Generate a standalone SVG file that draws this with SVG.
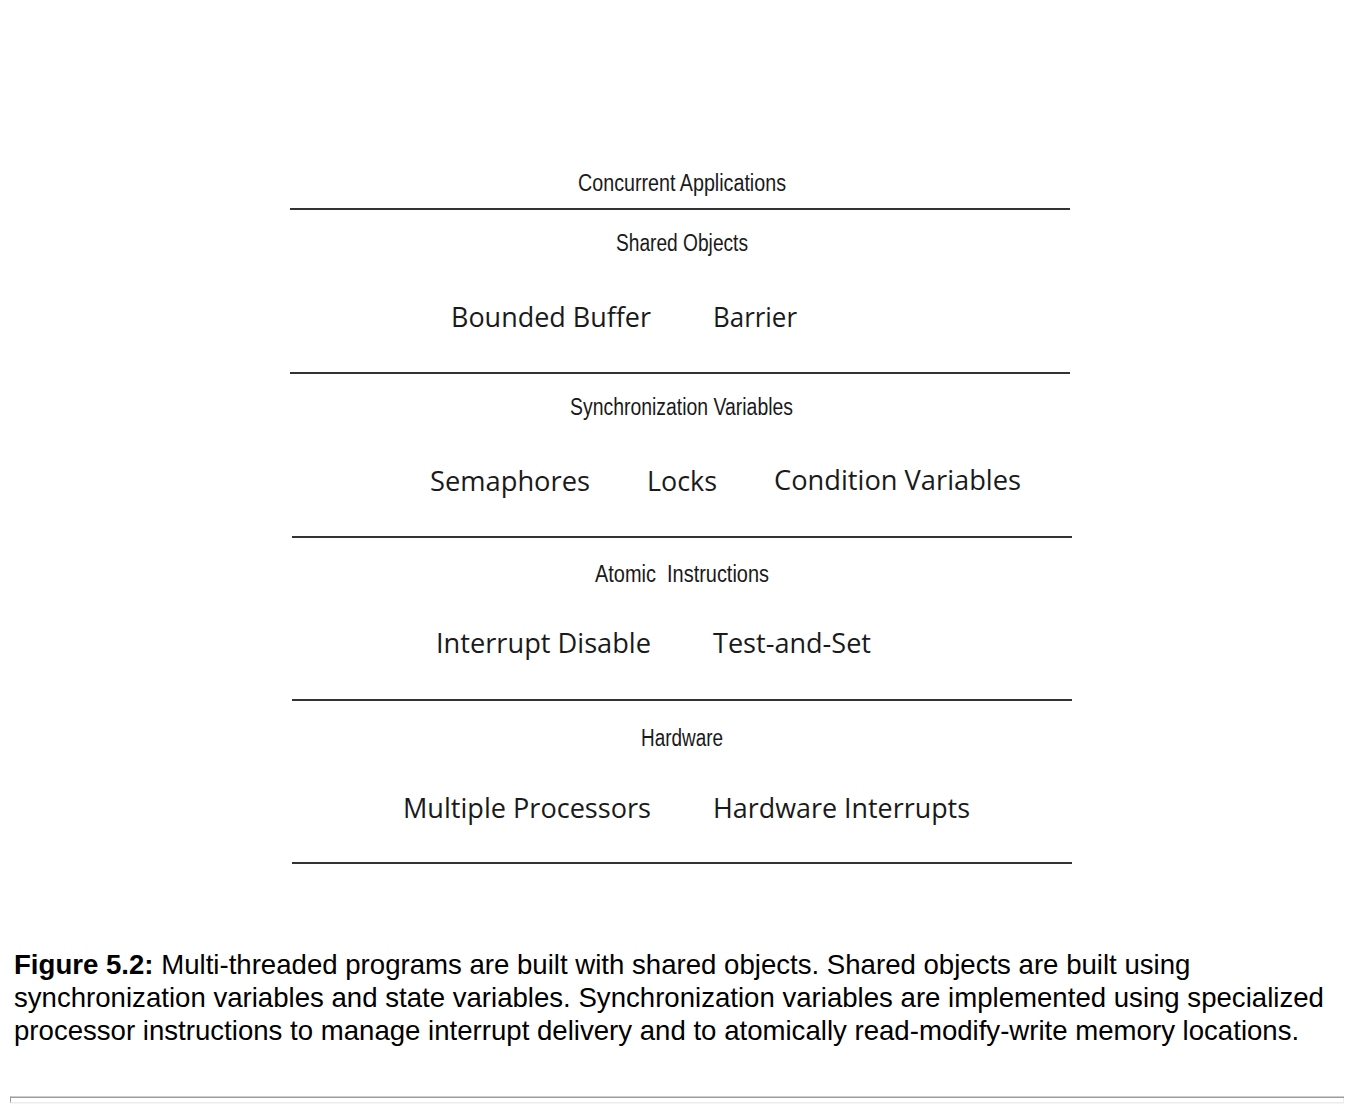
<svg xmlns="http://www.w3.org/2000/svg" width="1356" height="1112" viewBox="0 0 1356 1112">
<style>
.h{font-family:"Liberation Sans",Arial,sans-serif;font-size:23px;fill:#1a1a1a;}
.i{font-family:"Open Sans","Liberation Sans",sans-serif;font-size:28px;fill:#1a1a1a;}
.c{font-family:"Liberation Sans",Arial,sans-serif;font-size:27.6px;fill:#000;}
.sep{stroke:#333;stroke-width:2;fill:none;}
</style>
<rect width="1356" height="1112" fill="#fff"/>
<g id="connectors">
<line class="sep" x1="290" y1="209" x2="1070" y2="209"/>
<line class="sep" x1="290" y1="373" x2="1070" y2="373"/>
<line class="sep" x1="292" y1="537" x2="1072" y2="537"/>
<line class="sep" x1="292" y1="700" x2="1072" y2="700"/>
<line class="sep" x1="292" y1="863" x2="1072" y2="863"/>
</g>
<g id="layer-concurrent">
<text class="h" x="578" y="191" textLength="208" lengthAdjust="spacingAndGlyphs">Concurrent Applications</text>
</g>
<g id="layer-shared">
<text class="h" x="616" y="251" textLength="132" lengthAdjust="spacingAndGlyphs">Shared Objects</text>
<text class="i" x="451" y="327" textLength="200" lengthAdjust="spacingAndGlyphs">Bounded Buffer</text>
<text class="i" x="713" y="327" textLength="84" lengthAdjust="spacingAndGlyphs">Barrier</text>
</g>
<g id="layer-sync">
<text class="h" x="570" y="415" textLength="223" lengthAdjust="spacingAndGlyphs">Synchronization Variables</text>
<text class="i" x="430" y="491" textLength="160" lengthAdjust="spacingAndGlyphs">Semaphores</text>
<text class="i" x="647" y="491" textLength="70" lengthAdjust="spacingAndGlyphs">Locks</text>
<text class="i" x="774" y="490" textLength="247" lengthAdjust="spacingAndGlyphs">Condition Variables</text>
</g>
<g id="layer-atomic">
<text class="h" x="595" y="582" textLength="174" lengthAdjust="spacingAndGlyphs" xml:space="preserve">Atomic  Instructions</text>
<text class="i" x="436" y="653" textLength="215" lengthAdjust="spacingAndGlyphs">Interrupt Disable</text>
<text class="i" x="713" y="653" textLength="158" lengthAdjust="spacingAndGlyphs">Test-and-Set</text>
</g>
<g id="layer-hardware">
<text class="h" x="641" y="746" textLength="82" lengthAdjust="spacingAndGlyphs">Hardware</text>
<text class="i" x="403" y="818" textLength="248" lengthAdjust="spacingAndGlyphs">Multiple Processors</text>
<text class="i" x="713" y="818" textLength="257" lengthAdjust="spacingAndGlyphs">Hardware Interrupts</text>
</g>
<g id="caption">
<text class="c" x="14" y="974"><tspan font-weight="bold">Figure 5.2:</tspan> Multi-threaded programs are built with shared objects. Shared objects are built using</text>
<text class="c" x="14" y="1007">synchronization variables and state variables. Synchronization variables are implemented using specialized</text>
<text class="c" x="14" y="1040">processor instructions to manage interrupt delivery and to atomically read-modify-write memory locations.</text>
</g>
<g id="rule">
<rect x="10" y="1102" width="1334" height="1.5" fill="#ececec"/>
<rect x="1343" y="1097" width="1" height="6" fill="#ececec"/>
<rect x="10" y="1096.5" width="1334" height="1.5" fill="#9c9c9c"/>
<rect x="10" y="1096.5" width="1" height="6" fill="#9c9c9c"/>
</g>
</svg>
